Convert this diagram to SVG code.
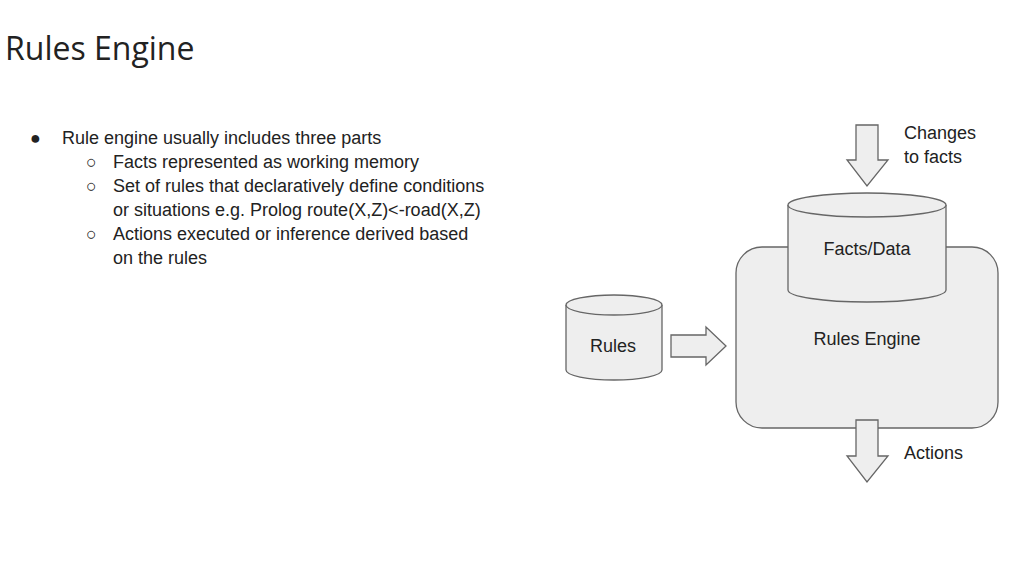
<svg xmlns="http://www.w3.org/2000/svg" width="1024" height="576" viewBox="0 0 1024 576">
<style>
.t{font-family:"Liberation Sans",Arial,sans-serif;font-size:18px;fill:#222}
.s{fill:#eeeeee;stroke:#666;stroke-width:1.3}
</style>
<rect width="1024" height="576" fill="#fff"/>
<text x="5" y="60" style="font-family:'Open Sans',sans-serif;font-size:32px;fill:#222">Rules Engine</text>
<g class="t">
<text x="30" y="144">●</text><text x="62" y="144">Rule engine usually includes three parts</text>
<text x="86" y="168">○</text><text x="113" y="168">Facts represented as working memory</text>
<text x="86" y="192">○</text><text x="113" y="192">Set of rules that declaratively define conditions</text>
<text x="113" y="216">or situations e.g. Prolog route(X,Z)&lt;-road(X,Z)</text>
<text x="86" y="240">○</text><text x="113" y="240">Actions executed or inference derived based</text>
<text x="113" y="264">on the rules</text>
</g>
<g id="engine"><rect class="s" x="736" y="247" width="262" height="181" rx="26"/><text class="t" x="867" y="345" text-anchor="middle">Rules Engine</text></g>
<g id="facts"><path class="s" d="M788,205 A79,12 0 0 1 946,205 V290 A79,12 0 0 1 788,290 Z"/><path class="s" fill="none" d="M788,205 A79,12 0 0 0 946,205"/><text class="t" x="867" y="255" text-anchor="middle">Facts/Data</text></g>
<g id="rules"><path class="s" d="M566,305 A48,10 0 0 1 662,305 V370 A48,10 0 0 1 566,370 Z"/><path class="s" fill="none" d="M566,305 A48,10 0 0 0 662,305"/><text class="t" x="613" y="352" text-anchor="middle">Rules</text></g>
<g id="connectors">
<path class="s" d="M856,125 H878 V160 H888 L867,186 L847,160 H856 Z"/>
<path class="s" d="M671,335 H706 V327 L726,346 L706,365 V357 H671 Z"/>
<path class="s" d="M856,420 H878 V456 H888 L867,482 L847,456 H856 Z"/>
</g>
<g class="t"><text x="904" y="139">Changes</text><text x="904" y="163">to facts</text><text x="904" y="459">Actions</text></g>
</svg>
